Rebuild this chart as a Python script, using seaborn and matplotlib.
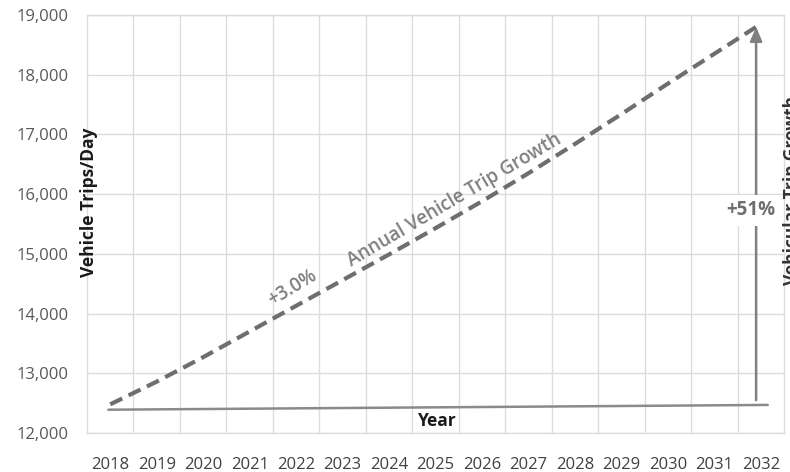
import matplotlib
matplotlib.use("Agg")
import matplotlib.pyplot as plt
import seaborn as sns
import pandas as pd

# ---- data ----
years = [2018, 2019, 2020, 2021, 2022, 2023, 2024, 2025, 2026, 2027, 2028, 2029, 2030, 2031, 2032]
trips = [12480, 12860, 13270, 13700, 14130, 14560, 14990, 15430, 15880, 16350, 16840, 17340, 17850, 18350, 18850]
base_x = [2017.96, 2032.15]
base_y = [12390, 12470]
arrow_x = 2031.9
arrow_from = 12550
arrow_to = 18800
y_ticks = [12000, 13000, 14000, 15000, 16000, 17000, 18000, 19000]
y_labels = ["12,000", "13,000", "14,000", "15,000", "16,000", "17,000", "18,000", "19,000"]

sns.set_theme(style="white")
plt.rcParams['font.family'] = ['Open Sans', 'DejaVu Sans']

fig = plt.figure(figsize=(7.9, 4.72), dpi=100)
ax = fig.add_axes([87/790, 39/472, 697/790, 418/472])

df = pd.DataFrame({"Year": years, "Trips": trips})
sns.lineplot(data=df, x="Year", y="Trips", ax=ax, color="#6e6e6e", lw=3.0,
             linestyle=(0, (3.2, 1.7)), zorder=3)
dfb = pd.DataFrame({"x": base_x, "y": base_y})
sns.lineplot(data=dfb, x="x", y="y", ax=ax, color="#8a8a8a", lw=1.8, zorder=3)

ax.annotate("", xy=(arrow_x, arrow_to), xytext=(arrow_x, arrow_from),
            arrowprops=dict(arrowstyle="-|>,head_length=0.7,head_width=0.3",
                            color="#808080", lw=1.8, shrinkA=0, shrinkB=0), zorder=4)
ax.text(2031.78, 15730, "+51%", ha="center", va="center", fontsize=13.5,
        fontweight="bold", color="#6f6f6f", zorder=5,
        bbox=dict(boxstyle="square,pad=0.3", fc="white", ec="none"))

ax.text(2021.92, 14430, "+3.0%", ha="center", va="center", fontsize=13.5,
        rotation=31, color="#7f7f7f", fontweight="semibold", rotation_mode="anchor")
ax.text(2025.4, 15890, "Annual Vehicle Trip Growth", ha="center", va="center",
        fontsize=13.5, rotation=30.5, color="#7f7f7f", fontweight="semibold",
        rotation_mode="anchor")
ax.text(2025.03, 12200, "Year", ha="center", va="center", fontsize=12.5,
        fontweight="bold", color="#1a1a1a")

fig.text(89/790, 1 - 202/472, "Vehicle Trips/Day", rotation=90, ha="center",
         va="center", fontsize=12.5, fontweight="bold", color="#1a1a1a")
fig.text(792/790, 1 - 190/472, "Vehicular Trip Growth", rotation=90, ha="center",
         va="center", fontsize=12.5, fontweight="bold", color="#333333")

ax.set_xlim(2017.5, 2032.5)
ax.set_ylim(12000, 19000)
ax.set_xticks(years)
ax.set_xticklabels([str(y) for y in years])
ax.set_xticks([y + 0.5 for y in years[:-1]], minor=True)
ax.set_yticks(y_ticks)
ax.set_yticklabels(y_labels)
ax.set_xlabel("")
ax.set_ylabel("")

ax.grid(False)
ax.grid(True, which="minor", axis="x", color="#dcdcdc", lw=1)
ax.grid(True, which="major", axis="y", color="#dcdcdc", lw=1)
ax.tick_params(axis="x", which="both", length=0, pad=17, labelsize=12, labelcolor="#404040")
ax.tick_params(axis="y", length=0, pad=13, labelsize=12, labelcolor="#595959")
for s in ax.spines.values():
    s.set_color("#dcdcdc")
    s.set_linewidth(1)

fig.savefig("out.png", dpi=100, facecolor="white")
